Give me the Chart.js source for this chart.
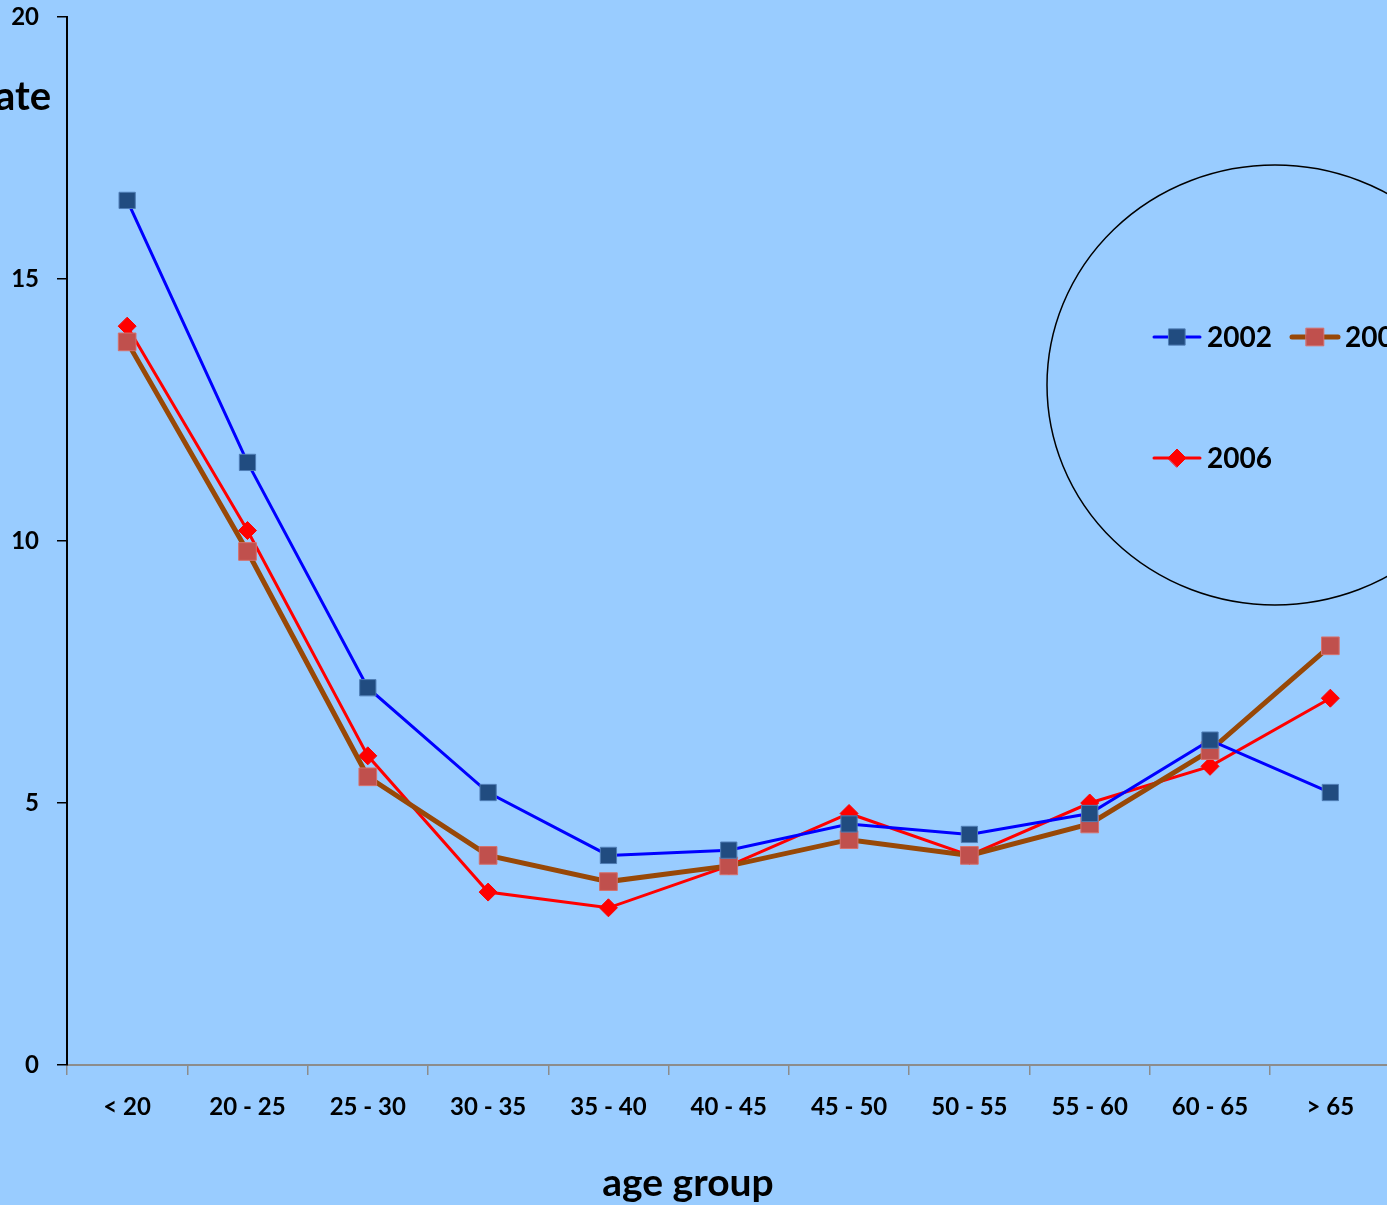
<!DOCTYPE html>
<html>
<head>
<meta charset="utf-8">
<script src="https://cdn.jsdelivr.net/npm/chart.js@4.4.1/dist/chart.umd.min.js"></script>
<style>
  html, body { margin: 0; padding: 0; overflow: hidden; background: #99CCFF; }
  #wrap { position: absolute; left: 0; top: 0; width: 1404px; height: 1205px; }
</style>
</head>
<body>
<div id="wrap"><canvas id="mychart" width="1404" height="1205"></canvas></div>
<script>
const ageGroups = ["< 20", "20 - 25", "25 - 30", "30 - 35", "35 - 40", "40 - 45", "45 - 50", "50 - 55", "55 - 60", "60 - 65", "> 65"];
const rate2002 = [16.5, 11.5, 7.2, 5.2, 4.0, 4.1, 4.6, 4.4, 4.8, 6.2, 5.2];
const rate2004 = [13.8, 9.8, 5.5, 4.0, 3.5, 3.8, 4.3, 4.0, 4.6, 6.0, 8.0];
const rate2006 = [14.1, 10.2, 5.9, 3.3, 3.0, 3.8, 4.8, 4.0, 5.0, 5.7, 7.0];
const yTicks = [0, 5, 10, 15, 20];

const FONT = "Lato, 'Open Sans', sans-serif";

// legend drawn inside an ellipse + the cut-off axis titles
const extras = {
  id: "extras",
  afterDraw(chart) {
    const ctx = chart.ctx;
    ctx.save();
    ctx.fillStyle = "#000";
    ctx.font = "bold 40px " + FONT;
    ctx.textAlign = "right";
    ctx.textBaseline = "middle";
    ctx.fillText("rate", 51, 97);

    ctx.font = "bold 39px " + FONT;
    ctx.textAlign = "center";
    ctx.fillText("age group", 688, 1183);

    ctx.beginPath();
    ctx.ellipse(1275, 385, 228, 220, 0, 0, Math.PI * 2);
    ctx.lineWidth = 1.5;
    ctx.strokeStyle = "#000";
    ctx.stroke();

    const spots = [[1154, 337], [1292, 337], [1154, 458]];
    chart.data.datasets.forEach((ds, i) => {
      const [x, y] = spots[i];
      ctx.beginPath();
      ctx.moveTo(x, y);
      ctx.lineTo(x + 46, y);
      ctx.lineWidth = ds.borderWidth;
      ctx.lineCap = "round";
      ctx.strokeStyle = ds.borderColor;
      ctx.stroke();
      ctx.fillStyle = ds.pointBackgroundColor;
      ctx.strokeStyle = ds.pointBorderColor;
      ctx.lineWidth = 1;
      Chart.helpers.drawPoint(ctx, {
        pointStyle: ds.pointStyle, radius: ds.pointRadius, rotation: 0, borderWidth: 1
      }, x + 23, y);
      ctx.fillStyle = "#000";
      ctx.font = "bold 28px " + FONT;
      ctx.textAlign = "left";
      ctx.textBaseline = "middle";
      ctx.fillText(ds.label, x + 53, y + 1);
    });
    ctx.restore();
  }
};

new Chart(document.getElementById("mychart").getContext("2d"), {
  type: "line",
  data: {
    labels: ageGroups,
    datasets: [
      {
        label: "2002",
        data: rate2002,
        borderColor: "#0000FF",
        borderWidth: 3,
        pointStyle: "rect",
        pointRadius: 11.5,
        pointBackgroundColor: "#214C80",
        pointBorderColor: "#4F7DB5",
        pointBorderWidth: 1,
        tension: 0,
      },
      {
        label: "2004",
        data: rate2004,
        borderColor: "#984807",
        borderWidth: 5,
        pointStyle: "rect",
        pointRadius: 12.5,
        pointBackgroundColor: "#C0504D",
        pointBorderColor: "#D6706C",
        pointBorderWidth: 1,
        tension: 0,
      },
      {
        label: "2006",
        data: rate2006,
        borderColor: "#FF0000",
        borderWidth: 3,
        pointStyle: "rectRot",
        pointRadius: 9,
        pointBackgroundColor: "#FF0000",
        pointBorderColor: "#FF0000",
        pointBorderWidth: 1,
        tension: 0,
      },
    ],
  },
  options: {
    responsive: false,
    animation: false,
    layout: { padding: { left: 0, top: 17, right: 10, bottom: 0 } },
    plugins: {
      legend: { display: false },
      tooltip: { enabled: false },
    },
    scales: {
      x: {
        offset: true,
        grid: {
          offset: true,
          drawOnChartArea: false,
          color: "#8C8C8C",
          tickLength: 10,
          lineWidth: 1.5,
        },
        border: { color: "#8C8C8C", width: 2 },
        ticks: {
          color: "#000",
          font: { family: FONT, size: 24, weight: "bold" },
          padding: 18,
          maxRotation: 0,
        },
        afterFit(scale) { scale.height = 140; },
      },
      y: {
        min: 0,
        max: 20,
        afterBuildTicks(scale) { scale.ticks = yTicks.map(v => ({ value: v })); },
        grid: {
          drawOnChartArea: false,
          color: "#000",
          tickLength: 10,
          lineWidth: 1.5,
        },
        border: { color: "#000", width: 2 },
        ticks: {
          color: "#000",
          font: { family: FONT, size: 24, weight: "bold" },
          padding: 18,
        },
        afterFit(scale) {
          scale.width = 67;
          scale.paddingTop = 0;
          scale.paddingBottom = 0;
        },
      },
    },
  },
  plugins: [extras],
});
</script>
</body>
</html>
